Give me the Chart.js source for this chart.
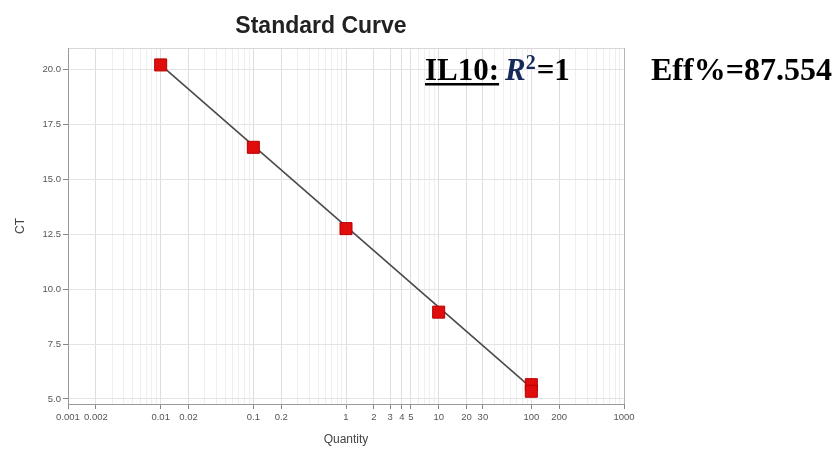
<!DOCTYPE html>
<html>
<head>
<meta charset="utf-8">
<script src="https://cdn.jsdelivr.net/npm/chart.js@4"></script>
<style>
  html, body { margin: 0; padding: 0; background: #fff; }
  #wrap { position: relative; width: 840px; height: 449px; }
</style>
</head>
<body>
<div id="wrap"><canvas id="chart" width="840" height="449"></canvas></div>
<script>
// data
const quantities = [0.01, 0.1, 1, 10, 100, 100];
const ctValues = [20.2, 16.45, 12.75, 8.95, 5.65, 5.35];
const fitQuantities = [0.01, 100];
const fitCt = [20.2, 5.5];
const xTickLabels = [0.001, 0.002, 0.01, 0.02, 0.1, 0.2, 1, 2, 3, 4, 5, 10, 20, 30, 100, 200, 1000];
const yTickLabels = [5, 7.5, 10, 12.5, 15, 17.5, 20];
const chartTitle = "Standard Curve";
const geneName = "IL10:";
const rSquared = "1";
const efficiency = "87.554";

const yMin = 4.77, yMax = 20.97;

// minor log grid positions (1..9 per decade)
const xGrid = [];
[0.001, 0.01, 0.1, 1, 10, 100].forEach(d => {
  for (let m = 1; m <= 9; m++) xGrid.push(d * m);
});
xGrid.push(1000);

function labelFor(v) {
  const l = xTickLabels.find(t => Math.abs(v / t - 1) < 1e-6);
  return l === undefined ? null : l;
}

const annotations = {
  id: "annotations",
  afterDraw(chart) {
    const ctx = chart.ctx;
    ctx.save();
    // title sits left of the plot centre in the original
    ctx.fillStyle = "#222";
    ctx.textAlign = "center";
    ctx.textBaseline = "middle";
    ctx.font = 'bold 23px "Liberation Sans"';
    ctx.fillText(chartTitle, 321, 27);

    ctx.textAlign = "left";
    ctx.textBaseline = "alphabetic";
    ctx.fillStyle = "#000";
    ctx.font = 'bold 31px "Liberation Serif"';
    ctx.fillText(geneName, 425, 80);
    const w = ctx.measureText(geneName).width;
    ctx.fillRect(425, 83, w, 2.5);

    let x = 505;
    ctx.fillStyle = "#15295a";
    ctx.font = 'italic bold 31px "Liberation Serif"';
    ctx.fillText("R", x, 80);
    x += ctx.measureText("R").width;
    ctx.font = 'bold 20px "Liberation Serif"';
    ctx.fillText("2", x, 69);
    x += ctx.measureText("2").width + 1;
    ctx.fillStyle = "#000";
    ctx.font = 'bold 31px "Liberation Serif"';
    ctx.fillText("=" + rSquared, x, 80);

    ctx.font = 'bold 32px "Liberation Serif"';
    ctx.fillText("Eff%=" + efficiency, 651, 80);
    ctx.restore();
  }
};

new Chart(document.getElementById("chart"), {
  type: "scatter",
  data: {
    datasets: [
      {
        label: "Standards",
        data: quantities.map((q, i) => ({ x: q, y: ctValues[i] })),
        pointStyle: "rect",
        pointRadius: 8.5,
        backgroundColor: "#e00d0d",
        borderColor: "#b80000",
        borderWidth: 1,
        order: 0
      },
      {
        label: "Fit",
        data: fitQuantities.map((q, i) => ({ x: q, y: fitCt[i] })),
        showLine: true,
        pointRadius: 0,
        borderColor: "#4a4a4a",
        borderWidth: 1.6,
        order: 1
      }
    ]
  },
  options: {
    animation: false,
    responsive: false,
    layout: { padding: { left: 0, right: 216, top: 48, bottom: 0 } },
    plugins: {
      legend: { display: false },
      tooltip: { enabled: false },
      title: { display: false }
    },
    scales: {
      x: {
        type: "logarithmic",
        min: 0.001,
        max: 1000,
        afterFit: s => { s.height = 45; },
        afterBuildTicks: s => { s.ticks = xGrid.map(v => ({ value: v })); },
        ticks: {
          autoSkip: false,
          maxRotation: 0,
          padding: 3,
          color: "#555",
          font: { family: "Liberation Sans", size: 9.5 },
          callback: v => { const l = labelFor(v); return l === null ? "" : String(l); }
        },
        grid: {
          color: c => c.tick && c.tick.value >= 999 ? "#b5b5b5" :
            (c.tick && labelFor(c.tick.value) !== null ? "#dedede" : "#efefef"),
          tickColor: c => c.tick && labelFor(c.tick.value) !== null ? "#888" : "rgba(0,0,0,0)",
          tickLength: 5
        },
        border: { color: "#999" },
        title: {
          display: true,
          text: "Quantity",
          color: "#444",
          font: { family: "Liberation Sans", size: 12 },
          padding: { top: 0, bottom: 2 }
        }
      },
      y: {
        min: yMin,
        max: yMax,
        afterFit: s => { s.width = 68; },
        afterBuildTicks: s => { s.ticks = yTickLabels.concat([yMax]).map(v => ({ value: v })); },
        ticks: {
          autoSkip: false,
          padding: 2,
          color: "#555",
          font: { family: "Liberation Sans", size: 9.5 },
          callback: v => v >= yMax - 0.01 ? "" : v.toFixed(1)
        },
        grid: {
          color: c => c.tick && c.tick.value >= yMax - 0.01 ? "#d8d8d8" : "#e4e4e4",
          tickColor: c => c.tick && c.tick.value >= yMax - 0.01 ? "rgba(0,0,0,0)" : "#888",
          tickLength: 5
        },
        border: { color: "#999" },
        title: {
          display: true,
          text: "CT",
          color: "#444",
          font: { family: "Liberation Sans", size: 12 },
          padding: { top: 13, bottom: 0 }
        }
      }
    }
  },
  plugins: [annotations]
});
</script>
</body>
</html>
